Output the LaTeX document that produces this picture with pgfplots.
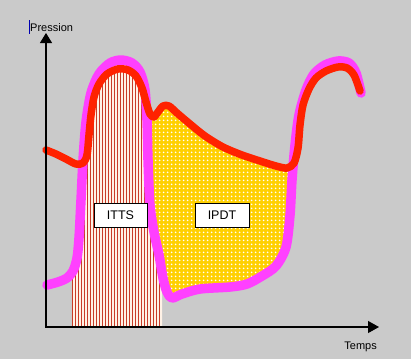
\documentclass[border=0pt]{standalone}
\usepackage{pgfplots}
\pgfplotsset{compat=1.18}
\usepackage{fontspec}
\setmainfont{Liberation Sans}
\usetikzlibrary{patterns,patterns.meta,arrows.meta}
\definecolor{bg}{RGB}{202,202,202}
\definecolor{mag}{RGB}{255,64,255}
\definecolor{rd}{RGB}{255,34,0}
\definecolor{yel}{RGB}{255,208,0}
\definecolor{stripe}{RGB}{200,60,40}
\definecolor{cream}{RGB}{255,242,230}
\begin{document}
\begin{tikzpicture}
\begin{axis}[
  width=411pt, height=359pt, scale only axis,
  xmin=0, xmax=411, ymin=0, ymax=359, y dir=reverse,
  hide axis, clip=false,
]
\fill[bg] (axis cs:0,0) rectangle (axis cs:411,359);
% ITTS region (stripes)
\addplot[fill=cream, draw=none] coordinates {
(72,327) (72,272) (77,258) (79,235) (81,200) (83,160) (86,120) (91,92) (99,73) (110,63) (121,60) (132,63) (140,72) (145,90) (147,120) (148,160) (150,205) (154,232) (159,255) (162,268) (162,327)} --cycle;
\addplot[pattern={Lines[angle=90,distance=3pt,line width=0.85pt]}, pattern color=stripe, draw=none] coordinates {
(72,327) (72,272) (77,258) (79,235) (81,200) (83,160) (86,120) (91,92) (99,73) (110,63) (121,60) (132,63) (140,72) (145,90) (147,120) (148,160) (150,205) (154,232) (159,255) (162,268) (162,327)} --cycle;
% IPDT region (dots)
\addplot[fill=yel, draw=none] coordinates {
(150,114) (154,117) (158,112) (163,106) (169,106) (177,113) (188,124) (203,135) (222,146) (242,154) (262,161) (278,166) (289,168) (293,170) (292,190) (291,215) (286,245) (276,265) (262,275) (247,284) (230,287) (200,289) (182,294) (173,298) (167,293) (163,278) (159,255) (154,232) (150,205) (148,160) (147,120)} --cycle;
\addplot[pattern={Dots[distance=4pt,radius=1.15pt]}, pattern color=white, draw=none] coordinates {
(150,114) (154,117) (158,112) (163,106) (169,106) (177,113) (188,124) (203,135) (222,146) (242,154) (262,161) (278,166) (289,168) (293,170) (292,190) (291,215) (286,245) (276,265) (262,275) (247,284) (230,287) (200,289) (182,294) (173,298) (167,293) (163,278) (159,255) (154,232) (150,205) (148,160) (147,120)} --cycle;
% ventricular pressure (magenta)
\addplot[mag, line width=9.5pt, smooth, line cap=round, line join=round] coordinates {
(47,285) (58,282) (67,278) (73,271) (77,258) (79,238) (81,200) (83,160) (86,122) (91,93) (99,74) (110,63) (121,60) (132,63) (140,72) (145,90) (147,120) (148,160) (150,205) (154,232) (159,255) (163,278) (167,292) (172,298) (182,294) (200,289) (230,287) (247,284) (262,276) (276,266) (286,247) (290,215) (292,180) (295,145) (299,115) (306,90) (314,74) (325,65) (338,61) (349,63) (356,73) (361,93)};
% aortic pressure (red)
\addplot[rd, line width=7.5pt, smooth, line cap=round, line join=round] coordinates {
(46,150) (56,154) (66,159) (76,164) (83,163) (87,155) (89,135) (91,115) (94,97) (99,84) (107,74) (118,69) (128,70) (136,76) (142,88) (146,102) (150,114) (154,117) (158,112) (163,106) (169,106) (177,113) (190,124) (205,136) (223,147) (242,155) (260,161) (276,166) (287,168) (294,163) (298,148) (300,125) (303,105) (309,89) (316,78) (326,71) (338,67) (347,68) (354,75) (360,91)};
% axes
\draw[black, line width=1.2pt, -{Triangle[length=10pt,width=12pt]}] (axis cs:46,327) -- (axis cs:46,33);
\draw[black, line width=1.2pt, -{Triangle[length=11pt,width=12pt]}] (axis cs:45,327) -- (axis cs:379,327);
\draw[blue!70!black, line width=0.7pt] (axis cs:29.5,20) -- (axis cs:29.5,34);
\node[anchor=base west, font=\fontsize{11}{13}\selectfont, inner sep=0pt] at (axis cs:30,31) {Pression};
\node[anchor=base east, font=\fontsize{11}{13}\selectfont, inner sep=0pt] at (axis cs:377,349) {Temps};
% labels
\node[draw=black, fill=white, line width=0.8pt, minimum width=53pt, minimum height=24pt, inner sep=0pt, font=\fontsize{12.5}{14}\selectfont] at (axis cs:120.5,215) {ITTS};
\node[draw=black, fill=white, line width=0.8pt, minimum width=54pt, minimum height=24pt, inner sep=0pt, font=\fontsize{12.5}{14}\selectfont] at (axis cs:222,215) {IPDT};
\end{axis}
\end{tikzpicture}
\end{document}
